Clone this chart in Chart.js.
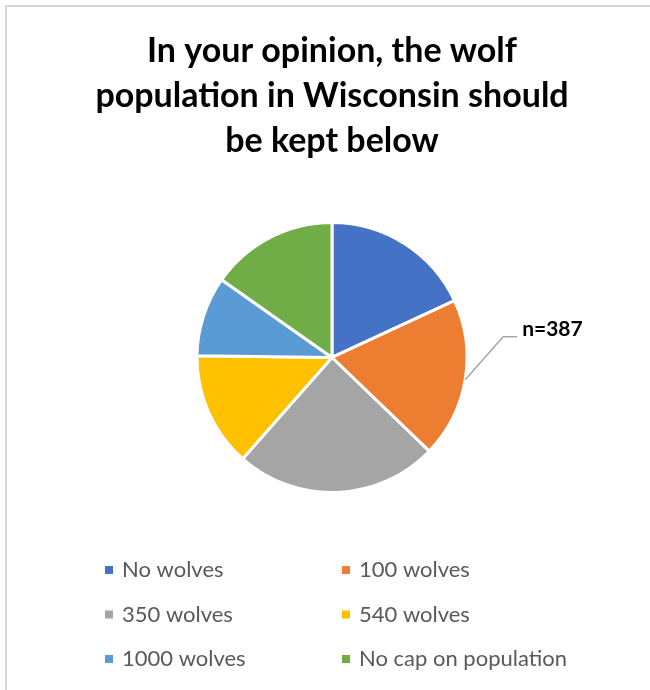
<!DOCTYPE html>
<html>
<head>
<meta charset="utf-8">
<script src="https://cdn.jsdelivr.net/npm/chart.js@4"></script>
<style>
  body { margin: 0; background: #fff; }
</style>
</head>
<body>
<canvas id="pieChart" width="650" height="690"></canvas>
<script>
// Survey answers
const categories = ['No wolves', '100 wolves', '350 wolves', '540 wolves', '1000 wolves', 'No cap on population'];
const responses = [70, 74, 94, 53, 37, 59];
const sliceColors = ['#4472C4', '#ED7D31', '#A5A5A5', '#FFC000', '#5B9BD5', '#70AD47'];
const titleLines = ['In your opinion, the wolf', 'population in Wisconsin should', 'be kept below'];
const sampleLabel = 'n=387';

const FONT = 'Lato, "Open Sans", sans-serif';

// light grey frame round the chart
const framePlugin = {
  id: 'frame',
  beforeDraw(chart) {
    const ctx = chart.ctx;
    ctx.save();
    ctx.strokeStyle = '#d9d9d9';
    ctx.lineWidth = 2;
    ctx.strokeRect(6, 6, chart.width + 20, chart.height + 20);
    ctx.restore();
  }
};

// two column legend under the pie
const gridLegendPlugin = {
  id: 'gridLegend',
  afterDraw(chart) {
    const ctx = chart.ctx;
    const labels = chart.data.labels;
    const colors = chart.data.datasets[0].backgroundColor;
    ctx.save();
    ctx.font = '22px ' + FONT;
    ctx.textBaseline = 'middle';
    ctx.textAlign = 'left';
    labels.forEach((label, i) => {
      const x = 105 + (i % 2) * 237;
      const y = 570 + Math.floor(i / 2) * 44.5;
      ctx.fillStyle = colors[i];
      ctx.fillRect(x, y - 4, 8, 8);
      ctx.fillStyle = '#595959';
      ctx.fillText(label, x + 17, y);
    });
    ctx.restore();
  }
};

// "n=387" label with a leader line from the orange slice
const sampleLabelPlugin = {
  id: 'sampleLabel',
  afterDraw(chart) {
    const arc = chart.getDatasetMeta(0).data[1];
    const { x, y, startAngle, endAngle, outerRadius } = arc.getProps(['x', 'y', 'startAngle', 'endAngle', 'outerRadius'], true);
    const mid = (startAngle + endAngle) / 2;
    const sx = x + Math.cos(mid) * outerRadius;
    const sy = y + Math.sin(mid) * outerRadius;
    const ex = sx + 38, ey = sy - 43;
    const ctx = chart.ctx;
    ctx.save();
    ctx.strokeStyle = '#a6a6a6';
    ctx.lineWidth = 1.5;
    ctx.beginPath();
    ctx.moveTo(sx, sy);
    ctx.lineTo(ex, ey);
    ctx.lineTo(ex + 14, ey);
    ctx.stroke();
    ctx.fillStyle = '#000';
    ctx.font = 'bold 21px ' + FONT;
    ctx.textBaseline = 'middle';
    ctx.fillText(sampleLabel, ex + 19, ey - 8);
    ctx.restore();
  }
};

const ctx = document.getElementById('pieChart');
new Chart(ctx, {
  type: 'pie',
  data: {
    labels: categories,
    datasets: [{
      data: responses,
      backgroundColor: sliceColors,
      borderColor: '#ffffff',
      borderWidth: 3
    }]
  },
  options: {
    responsive: false,
    animation: false,
    layout: {
      padding: { top: 0, left: 14, right: 0, bottom: 196 }
    },
    plugins: {
      legend: { display: false },
      tooltip: { enabled: false },
      title: {
        display: true,
        text: titleLines,
        color: '#000',
        font: { family: FONT, size: 34, weight: 'bold', lineHeight: 1.33 },
        padding: { top: 28, bottom: 57.3 }
      }
    }
  },
  plugins: [framePlugin, gridLegendPlugin, sampleLabelPlugin]
});
</script>
</body>
</html>
